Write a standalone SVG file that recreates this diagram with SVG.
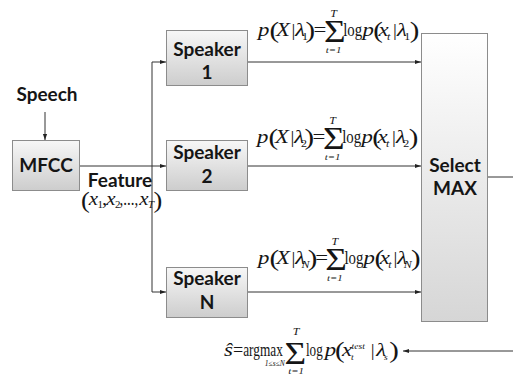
<svg xmlns="http://www.w3.org/2000/svg" width="513" height="376" viewBox="0 0 513 376">
  <defs>
    <linearGradient id="boxFill" x1="0" y1="0" x2="0" y2="1">
      <stop offset="0" stop-color="#f7f7f7"/>
      <stop offset="1" stop-color="#cdcdcd"/>
    </linearGradient>
    <linearGradient id="tallFill" x1="0" y1="0" x2="0" y2="1">
      <stop offset="0" stop-color="#ffffff"/>
      <stop offset="1" stop-color="#d6d6d6"/>
    </linearGradient>
    <marker id="arrow" markerWidth="6" markerHeight="6" refX="6" refY="3" orient="auto" markerUnits="userSpaceOnUse">
      <path d="M0,0.9 L6,3 L0,5.1 Z" fill="#222"/>
    </marker>
    <style>
      .box{fill:url(#boxFill);stroke:#8c8c8c;stroke-width:1}
      .tall{fill:url(#tallFill);stroke:#8c8c8c;stroke-width:1}
      .lbl{font-family:Lato,"Open Sans","Liberation Sans",sans-serif;font-weight:bold;font-size:19px;fill:#151515;text-anchor:middle}
      .wire{fill:none;stroke:#333;stroke-width:1}
      .arr{marker-end:url(#arrow)}
      .m{font-family:"Liberation Serif","Times New Roman",serif;fill:#151515;font-size:19px}
      .i{font-style:italic}
      .big{font-size:24px;font-style:normal}
      .sig{font-size:31px;font-style:normal}
      .lg{font-size:18px}
      .bar{font-size:16px}
      .sub{font-size:10px}
      .sm{font-size:9px}
      .xs{font-size:8px}
      .c{text-anchor:middle}
    </style>
  </defs>

  <!-- connectors -->
  <g id="connectors">
    <path class="wire arr" d="M45,112 V140"/>
    <path class="wire arr" d="M79,166 H166"/>
    <path class="wire" d="M152,62 V292"/>
    <path class="wire arr" d="M152,62 H166"/>
    <path class="wire arr" d="M152,292 H166"/>
    <path class="wire arr" d="M248,62 H421"/>
    <path class="wire arr" d="M248,166 H421"/>
    <path class="wire arr" d="M248,292 H421"/>
    <path class="wire" d="M488,177 H513"/>
    <path class="wire arr" d="M513,351 H403"/>
  </g>

  <!-- input label -->
  <g id="speech">
    <text class="lbl" x="47" y="101">Speech</text>
  </g>

  <g id="mfcc">
    <rect class="box" x="12.5" y="140.5" width="67" height="50"/>
    <text class="lbl" x="46" y="172">MFCC</text>
  </g>

  <!-- feature vector label -->
  <g id="feature">
    <text class="lbl" x="120" y="187">Feature</text>
    <text class="m" transform="translate(81,205) scale(1.1,1)">
      <tspan class="big" x="0" y="3">(</tspan>
      <tspan class="i" x="7" y="0">x</tspan>
      <tspan class="sub" x="15" y="3">1</tspan>
      <tspan x="19" y="0">,</tspan>
      <tspan class="i" x="23" y="0">x</tspan>
      <tspan class="sub" x="31" y="3">2</tspan>
      <tspan class="lg" x="35" y="0" textLength="17" lengthAdjust="spacingAndGlyphs">,...,</tspan>
      <tspan class="i" x="53" y="0">x</tspan>
      <tspan class="sub i" x="61" y="3">T</tspan>
      <tspan class="big" x="66" y="3">)</tspan>
    </text>
  </g>

  <g id="speaker1">
    <rect class="box" x="166.5" y="30.5" width="81" height="55"/>
    <text class="lbl" x="207" y="56">Speaker</text>
    <text class="lbl" x="207" y="79">1</text>
  </g>

  <g id="speaker2">
    <rect class="box" x="166.5" y="140.5" width="81" height="50"/>
    <text class="lbl" x="207" y="159">Speaker</text>
    <text class="lbl" x="207" y="183">2</text>
  </g>

  <g id="speakerN">
    <rect class="box" x="166.5" y="267.5" width="81" height="50"/>
    <text class="lbl" x="207" y="285">Speaker</text>
    <text class="lbl" x="207" y="309">N</text>
  </g>

  <g id="select-max">
    <rect class="tall" x="421.5" y="33.5" width="66" height="288"/>
    <text class="lbl" x="455" y="172">Select</text>
    <text class="lbl" x="455" y="195">MAX</text>
  </g>

  <!-- likelihood of each speaker model -->
  <g id="score1" transform="translate(258,36) scale(1.2,1)">
    <text class="m">
      <tspan class="i" x="0" y="0">p</tspan>
      <tspan class="big" x="9.5" y="2">(</tspan>
      <tspan class="i" x="15" y="0">X</tspan>
      <tspan class="bar" x="28" y="0">|</tspan>
      <tspan class="i" x="31" y="0">λ</tspan>
      <tspan class="sub" x="36.7" y="4">1</tspan>
      <tspan class="big" x="39.5" y="2">)</tspan>
      <tspan x="46.3" y="0">=</tspan>
      <tspan class="sig" x="55" y="6">Σ</tspan>
      <tspan x="71" y="0" textLength="15.8" lengthAdjust="spacingAndGlyphs">log</tspan>
      <tspan class="i" x="87" y="0">p</tspan>
      <tspan class="big" x="96" y="2">(</tspan>
      <tspan class="i" x="100.5" y="0">x</tspan>
      <tspan class="sub i" x="107.5" y="4">t</tspan>
      <tspan class="bar" x="112.5" y="0">|</tspan>
      <tspan class="i" x="115.8" y="0">λ</tspan>
      <tspan class="sub" x="121.8" y="4">1</tspan>
      <tspan class="big" x="126.5" y="2">)</tspan>
    </text>
    <text class="m i c sub" x="63" y="-19">T</text>
    <text class="m i c sm" x="63" y="17">t=1</text>
  </g>

  <g id="score2" transform="translate(257,143) scale(1.2,1)">
    <text class="m">
      <tspan class="i" x="0" y="0">p</tspan>
      <tspan class="big" x="9.5" y="2">(</tspan>
      <tspan class="i" x="15" y="0">X</tspan>
      <tspan class="bar" x="28" y="0">|</tspan>
      <tspan class="i" x="31" y="0">λ</tspan>
      <tspan class="sub" x="36.7" y="4">2</tspan>
      <tspan class="big" x="39.5" y="2">)</tspan>
      <tspan x="46.3" y="0">=</tspan>
      <tspan class="sig" x="55" y="6">Σ</tspan>
      <tspan x="71" y="0" textLength="15.8" lengthAdjust="spacingAndGlyphs">log</tspan>
      <tspan class="i" x="87" y="0">p</tspan>
      <tspan class="big" x="96" y="2">(</tspan>
      <tspan class="i" x="100.5" y="0">x</tspan>
      <tspan class="sub i" x="107.5" y="4">t</tspan>
      <tspan class="bar" x="112.5" y="0">|</tspan>
      <tspan class="i" x="115.8" y="0">λ</tspan>
      <tspan class="sub" x="121.8" y="4">2</tspan>
      <tspan class="big" x="126.5" y="2">)</tspan>
    </text>
    <text class="m i c sub" x="63" y="-19">T</text>
    <text class="m i c sm" x="63" y="17">t=1</text>
  </g>

  <g id="scoreN" transform="translate(258,264) scale(1.2,1)">
    <text class="m">
      <tspan class="i" x="0" y="0">p</tspan>
      <tspan class="big" x="9.5" y="2">(</tspan>
      <tspan class="i" x="15" y="0">X</tspan>
      <tspan class="bar" x="28" y="0">|</tspan>
      <tspan class="i" x="31" y="0">λ</tspan>
      <tspan class="sub i" x="36.2" y="4">N</tspan>
      <tspan class="big" x="41.5" y="2">)</tspan>
      <tspan x="47.8" y="0">=</tspan>
      <tspan class="sig" x="56" y="6">Σ</tspan>
      <tspan x="72" y="0" textLength="15.8" lengthAdjust="spacingAndGlyphs">log</tspan>
      <tspan class="i" x="88" y="0">p</tspan>
      <tspan class="big" x="97" y="2">(</tspan>
      <tspan class="i" x="101.5" y="0">x</tspan>
      <tspan class="sub i" x="108.5" y="4">t</tspan>
      <tspan class="bar" x="113" y="0">|</tspan>
      <tspan class="i" x="116" y="0">λ</tspan>
      <tspan class="sub i" x="121.5" y="4">N</tspan>
      <tspan class="big" x="127.5" y="2">)</tspan>
    </text>
    <text class="m i c sub" x="64" y="-19">T</text>
    <text class="m i c sm" x="64" y="17">t=1</text>
  </g>

  <!-- decision rule -->
  <g id="decision" transform="translate(224,356) scale(1.2,1)">
    <text class="m">
      <tspan class="i" x="0" y="0">ŝ</tspan>
      <tspan x="7.5" y="0" textLength="8.5" lengthAdjust="spacingAndGlyphs">=</tspan>
      <tspan x="16" y="0" textLength="33" lengthAdjust="spacingAndGlyphs">argmax</tspan>
      <tspan class="sig" x="50.5" y="8">Σ</tspan>
      <tspan x="68.3" y="0" textLength="14" lengthAdjust="spacingAndGlyphs">log</tspan>
      <tspan class="i" x="84" y="0">p</tspan>
      <tspan class="big" x="92.5" y="2">(</tspan>
      <tspan class="i" x="98.3" y="0">x</tspan>
      <tspan class="i xs" x="106.3" y="-7">test</tspan>
      <tspan class="i xs" x="105.8" y="4">t</tspan>
      <tspan class="bar" x="122.3" y="0">|</tspan>
      <tspan class="i" x="126.8" y="0">λ</tspan>
      <tspan class="i xs" x="133.3" y="4">s</tspan>
      <tspan class="big" x="137.8" y="2">)</tspan>
    </text>
    <text class="m i xs" x="34" y="10" textLength="16.7" lengthAdjust="spacingAndGlyphs">1≤s≤N</text>
    <text class="m i c sub" x="60" y="-21">T</text>
    <text class="m i c sm" x="60" y="18">t=1</text>
  </g>
</svg>
